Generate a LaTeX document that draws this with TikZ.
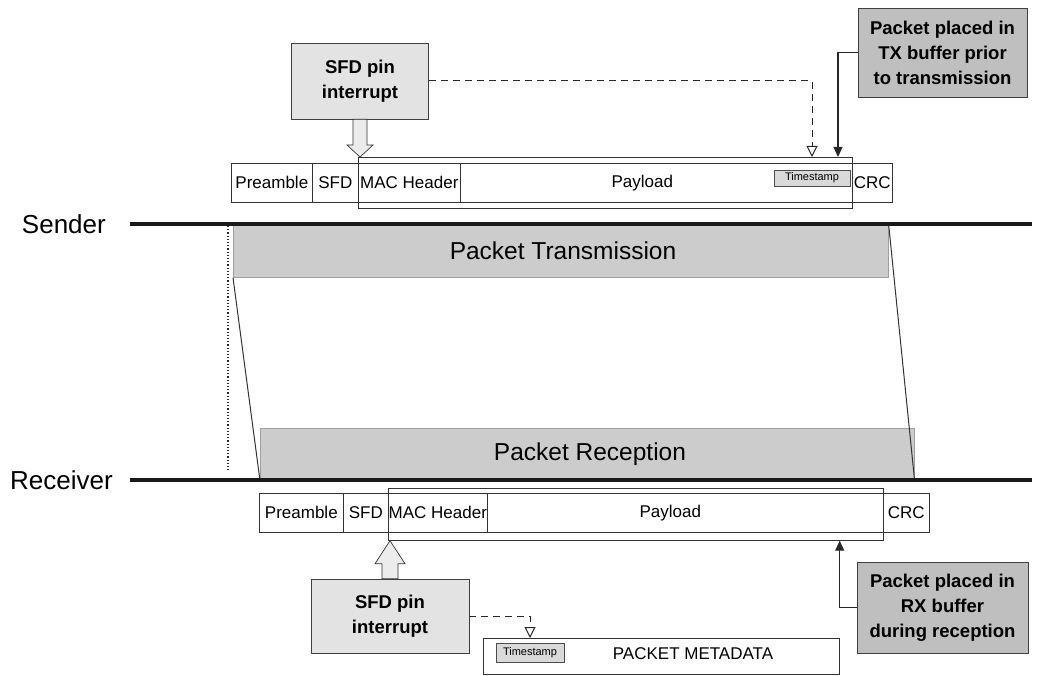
\documentclass[tikz,border=0pt]{standalone}
\usepackage{fontspec}
\setmainfont{Liberation Sans}
\usetikzlibrary{arrows.meta,calc}

\tikzset{
  field/.style={draw=black!80, line width=0.7pt, fill=white, minimum height=39pt,
    inner sep=0pt, anchor=north west, font=\fontsize{17}{17}\selectfont},
  fieldtext/.style={font=\fontsize{17}{17}\selectfont},
  framebox/.style={draw=black!80, line width=0.7pt, inner sep=0pt, anchor=north west},
  note/.style={draw=black!75, line width=0.7pt, fill=gray!22, align=center,
    inner sep=0pt, font=\fontsize{18.5}{25}\selectfont\bfseries},
  darknote/.style={note, fill=gray!50},
  band/.style={draw=gray!75, line width=0.6pt, fill=gray!40, inner sep=0pt,
    anchor=north west},
  bandtext/.style={font=\fontsize{24.5}{24.5}\selectfont},
  stamp/.style={draw=black!70, line width=0.6pt, fill=gray!30, inner sep=0pt,
    font=\fontsize{11}{11}\selectfont},
  axislabel/.style={inner sep=0pt, anchor=east, font=\fontsize{26}{26}\selectfont},
  axis/.style={line width=3.4pt, black!90},
  hollow/.style={draw=black!80, line width=0.7pt, fill=gray!15, line join=miter},
  trigger/.style={dashed, dash pattern=on 7pt off 5pt, line width=1pt, black!85,
    -{Triangle[open,length=11pt,width=11pt,line width=1pt]}},
  buffer/.style={line width=1.2pt, black!85, -{Triangle[length=10pt,width=9pt]}},
  edge/.style={line width=1pt, black!80},
}

\begin{document}
\begin{tikzpicture}[x=1pt,y=-1pt]
\useasboundingbox (0,0) rectangle (1037,676);

% ---- sender side -------------------------------------------------------
\node[band, minimum width=655pt, minimum height=53pt] (trans) at (233,224) {};
\node[bandtext] (transtext) at (563,251) {Packet Transmission};

\node[field, minimum width=81pt]  (pre1) at (231,163) {Preamble};
\node[field, minimum width=46pt]  (sfd1) at (312,163) {SFD};
\node[field, minimum width=102pt] (mac1) at (358,163) {MAC Header};
\node[field, minimum width=392pt,
      label={[fieldtext, xshift=-14pt]center:Payload}] (pay1) at (460,163) {};
\node[field, minimum width=40pt]  (crc1) at (852,163) {CRC};
\node[stamp, minimum width=76pt, minimum height=16pt] (ts1) at (812,178) {Timestamp};
\node[framebox, minimum width=494pt, minimum height=51pt] (frameT) at (358,157) {};

\node[note, minimum width=137pt, minimum height=76pt] (sfdA) at (360,81) {SFD pin\\interrupt};
\node[darknote, minimum width=169pt, minimum height=89pt] (txbox) at (942.5,52.5)
  {Packet placed in\\TX buffer prior\\to transmission};

% hollow arrow from the SFD interrupt to the start of the MAC header
\coordinate (sfdTipA) at (sfdA.south |- frameT.north);
\draw[hollow] ($(sfdA.south)+(-7,0)$) -- ($(sfdTipA)+(-7,-12)$) -- ($(sfdTipA)+(-13,-12)$)
  -- (sfdTipA) -- ($(sfdTipA)+(13,-12)$) -- ($(sfdTipA)+(7,-12)$) -- ($(sfdA.south)+(7,0)$) -- cycle;

\draw[trigger] (sfdA.east) -| (ts1.north |- frameT.north);
\coordinate (txin) at (838,157);
\draw[buffer] (txbox.west) -| (txin);

% ---- receiver side -----------------------------------------------------
\node[band, minimum width=654pt, minimum height=52pt] (recv) at (260,428) {};
\node[bandtext] (recvtext) at (590,454) {Packet Reception};

% propagation edges of the packet
\draw[edge] (trans.south west) -- (recv.south west);
\draw[edge] (trans.north east) -- (recv.south east);
\coordinate (dotTop) at (228,226);
\coordinate (dotBot) at (228,472);
\draw[dotted, line width=1.2pt, black!85] (dotTop) -- (dotBot);

% time axes
\node[axislabel] (sender) at (106,224) {Sender};
\node[axislabel] (receiver) at (113,480) {Receiver};
\coordinate (sL) at (130,224);
\coordinate (sR) at (1032,224);
\coordinate (rL) at (130,480);
\coordinate (rR) at (1032,480);
\draw[axis] (sL) -- (sR);
\draw[axis] (rL) -- (rR);

\node[field, minimum width=84pt]  (pre2) at (259,493) {Preamble};
\node[field, minimum width=45pt]  (sfd2) at (343,493) {SFD};
\node[field, minimum width=99pt]  (mac2) at (388,493) {MAC Header};
\node[field, minimum width=396pt,
      label={[fieldtext, xshift=-15pt]center:Payload}] (pay2) at (487,493) {};
\node[field, minimum width=46pt]  (crc2) at (883,493) {CRC};
\node[framebox, minimum width=495pt, minimum height=52pt] (frameB) at (388,488) {};

\node[note, minimum width=158pt, minimum height=74pt] (sfdB) at (390,616) {SFD pin\\interrupt};
\node[darknote, minimum width=171pt, minimum height=91pt] (rxbox) at (942.5,607.5)
  {Packet placed in\\RX buffer\\during reception};

\node[framebox, minimum width=356pt, minimum height=36pt] (meta) at (483,638) {};
\node[stamp, minimum width=68pt, minimum height=19pt] (tsB) at (530,653) {Timestamp};
\node[fieldtext] (metatext) at (693,654) {PACKET METADATA};

% hollow arrow from the SFD interrupt up to the start of the MAC header
\coordinate (sfdTipB) at (sfdB.north |- frameB.south);
\draw[hollow] ($(sfdB.north)+(-8,0)$) -- ($(sfdTipB)+(-8,23)$) -- ($(sfdTipB)+(-15,23)$)
  -- (sfdTipB) -- ($(sfdTipB)+(15,23)$) -- ($(sfdTipB)+(8,23)$) -- ($(sfdB.north)+(8,0)$) -- cycle;

\draw[trigger] (sfdB.east) -| (tsB.north |- meta.north);
\draw[buffer] (rxbox.west) -| (meta.north east |- frameB.south);
\end{tikzpicture}
\end{document}
